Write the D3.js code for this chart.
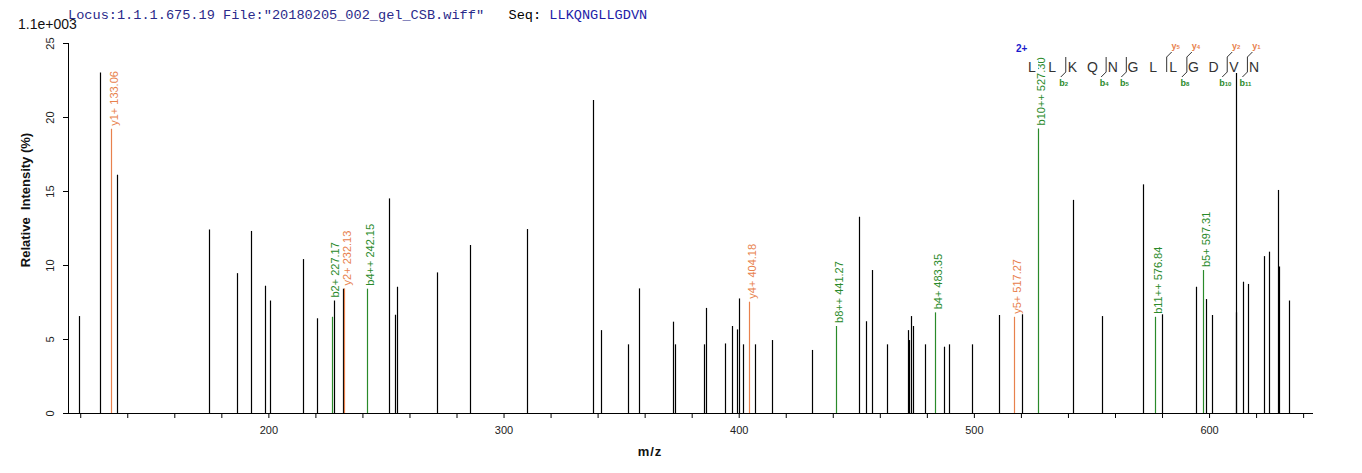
<!DOCTYPE html>
<html>
<head>
<meta charset="utf-8">
<script src="https://cdn.jsdelivr.net/npm/d3@7"></script>
<style>
  html, body { margin: 0; padding: 0; background: #fff; }
  svg { display: block; }
  text { font-family: Arial, "Liberation Sans", sans-serif; }
</style>
</head>
<body>
<svg id="chart" width="1362" height="473"></svg>
<script>
// ---------------- data ----------------
const sequence = "LLKQNGLLGDVN";
const chargeLabel = "2+";
const scaleLabel = "1.1e+003";

// unassigned (black) peaks: m/z and relative intensity (%)
const peakMz = [119.6, 128.5, 135.7, 174.9, 186.8, 192.7, 198.7, 200.8, 214.8, 220.8,
  228.0, 231.7, 251.1, 253.8, 254.8, 271.8, 285.8, 310.1, 338.1, 341.3,
  353.0, 357.4, 372.1, 373.1, 385.3, 386.2, 394.2, 397.2, 399.3, 400.2,
  401.9, 407.0, 414.2, 431.2, 451.2, 454.2, 456.5, 463.1, 472.0, 472.5,
  473.3, 474.2, 479.3, 487.4, 489.5, 499.3, 510.6, 520.5, 542.2, 554.6,
  571.7, 579.8, 594.5, 598.7, 601.3, 611.3, 611.5, 614.5, 616.6, 623.4,
  625.5, 629.4, 629.7, 634.0];
const peakInt = [6.55, 23.0, 16.1, 12.4, 9.45, 12.3, 8.6, 7.6, 10.4, 6.4,
  7.6, 8.4, 14.5, 6.64, 8.53, 9.5, 11.35, 12.43, 21.15, 5.6,
  4.64, 8.42, 6.17, 4.64, 4.64, 7.1, 4.7, 5.88, 5.65, 7.74,
  4.64, 4.64, 4.93, 4.26, 13.26, 6.2, 9.66, 4.64, 5.6, 4.93,
  6.55, 5.88, 4.64, 4.48, 4.64, 4.64, 6.62, 6.67, 14.4, 6.55,
  15.45, 6.67, 8.53, 7.7, 6.62, 23.8, 6.8, 8.87, 8.72, 10.6,
  10.9, 15.07, 9.9, 7.6];

// assigned fragment ions
const ionMz = [133.06, 227.17, 232.13, 242.15, 404.18, 441.27, 483.35, 517.27, 527.30, 576.84, 597.31];
const ionInt = [19.2, 6.5, 8.42, 8.4, 7.52, 5.88, 6.8, 6.5, 19.23, 6.5, 9.66];
const ionType = ["y", "b", "y", "b", "y", "b", "b", "y", "b", "b", "b"];
const ionLabel = ["y1+ 133.06", "b2+ 227.17", "y2+ 232.13", "b4++ 242.15", "y4+ 404.18",
  "b8++ 441.27", "b4+ 483.35", "y5+ 517.27", "b10++ 527.30", "b11++ 576.84", "b5+ 597.31"];

// cleavage markers on the sequence
const bIons = [2, 4, 5, 8, 10, 11];
const yIons = [5, 4, 2, 1];

// axes
const xDomain = [114.8, 644.2];
const yDomain = [0, 25];
const yTicks = [0, 5, 10, 15, 20, 25];
const xTicks = d3.range(120, 641, 20);
const xTickLabels = [200, 300, 400, 500, 600];

// ---------------- drawing ----------------
const colors = { y: "#e8814d", b: "#2a8a2a", peak: "#000" };
const svg = d3.select("#chart");

const x = d3.scaleLinear().domain(xDomain).range([68, 1313]);
const y = d3.scaleLinear().domain(yDomain).range([413, 43]);

// header
svg.append("text")
  .attr("x", 68).attr("y", 19)
  .attr("style", "font-family:'Liberation Mono','DejaVu Sans Mono',monospace;font-size:13.6px;white-space:pre")
  .attr("fill", "#2a2a8a")
  .attr("xml:space", "preserve")
  .call(t => {
    t.append("tspan").text('Locus:1.1.1.675.19 File:"20180205_002_gel_CSB.wiff"   ');
    t.append("tspan").attr("fill", "#000").text("Seq: ");
    t.append("tspan").attr("fill", "#1c1ca8").text(sequence);
  });

svg.append("text").attr("x", 18).attr("y", 29)
  .attr("font-size", 14).attr("fill", "#111").text(scaleLabel);

// x axis
const xAxis = d3.axisBottom(x).tickValues(xTicks).tickSize(5)
  .tickFormat(d => xTickLabels.includes(d) ? d : "");
const gx = svg.append("g").attr("transform", "translate(0,413)").call(xAxis);
gx.select(".domain").attr("d", `M${x(xDomain[0])},0.5H${x(xDomain[1])}`).attr("stroke", "#000");
gx.selectAll(".tick line").attr("stroke", "#000");
gx.selectAll(".tick text").attr("font-size", 11).attr("fill", "#222").attr("dy", "1.2em")
  .attr("font-family", "Arial, 'Liberation Sans', sans-serif");

// y axis
const yAxis = d3.axisLeft(y).tickValues(yTicks).tickSize(5);
const gy = svg.append("g").attr("transform", "translate(68,0)").call(yAxis);
gy.select(".domain").attr("d", `M0.5,${y(0)}V${y(25)}`).attr("stroke", "#000");
gy.selectAll(".tick line").attr("stroke", "#000");
gy.selectAll(".tick text")
  .attr("font-size", 11).attr("fill", "#222")
  .attr("font-family", "Arial, 'Liberation Sans', sans-serif")
  .attr("x", null).attr("dy", null).attr("text-anchor", "middle")
  .attr("transform", "translate(-14,0) rotate(-90)")
  .attr("y", 0);

// axis titles
svg.append("text").attr("transform", "translate(30,200) rotate(-90)")
  .attr("text-anchor", "middle").attr("font-size", 13).attr("font-weight", "bold")
  .attr("fill", "#111").attr("xml:space", "preserve").style("white-space", "pre")
  .text("Relative  Intensity (%)");
svg.append("text").attr("x", 650).attr("y", 456).attr("text-anchor", "middle")
  .attr("font-size", 13).attr("font-weight", "bold").attr("fill", "#111")
  .attr("letter-spacing", 1).text("m/z");

// unassigned peaks
svg.append("g").selectAll("line").data(peakMz).join("line")
  .attr("x1", d => Math.round(x(d)) + 0.5).attr("x2", d => Math.round(x(d)) + 0.5)
  .attr("y1", y(0)).attr("y2", (d, i) => y(peakInt[i]))
  .attr("stroke", colors.peak).attr("stroke-width", 1.2);

// assigned peaks
const ions = ionMz.map((m, i) => {
  // lift the label above any neighbouring peak that would cross it
  let top = y(ionInt[i]);
  peakMz.forEach((pm, j) => {
    if (Math.abs(x(pm) - x(m)) < 3.5) top = Math.min(top, y(peakInt[j]));
  });
  return { m, v: ionInt[i], t: ionType[i], l: ionLabel[i], top };
});
svg.append("g").selectAll("line").data(ions).join("line")
  .attr("x1", d => Math.round(x(d.m)) + 0.5).attr("x2", d => Math.round(x(d.m)) + 0.5)
  .attr("y1", y(0)).attr("y2", d => y(d.v))
  .attr("stroke", d => colors[d.t]).attr("stroke-width", 1.2);
svg.append("g").selectAll("text").data(ions).join("text")
  .attr("transform", d => `translate(${Math.round(x(d.m)) + 0.5},${d.top - 3}) rotate(-90)`)
  .attr("dy", "0.6em").attr("font-size", 11)
  .attr("fill", d => colors[d.t]).text(d => d.l);

// sequence annotation
const residues = sequence.split("");
const px = d3.scalePoint().domain(d3.range(residues.length)).range([1032, 1254]);
const seqG = svg.append("g");
seqG.selectAll("rect").data(residues).join("rect")
  .attr("x", (d, i) => px(i) - 6).attr("y", 60).attr("width", i => 12).attr("height", 13)
  .attr("fill", "#fff");
seqG.selectAll("text").data(residues).join("text")
  .attr("x", (d, i) => px(i)).attr("y", 72).attr("text-anchor", "middle")
  .attr("font-size", 14).attr("fill", "#333").text(d => d);
svg.append("text").attr("x", 1016).attr("y", 52).attr("font-size", 10)
  .attr("font-weight", "bold").attr("fill", "#1a1acc").text(chargeLabel);

const cut = n => (px(n - 1) + px(n)) / 2 + 3.5; // after n residues
const marks = svg.append("g").attr("stroke", "#333").attr("stroke-width", 1).attr("fill", "none");
const cuts = Array.from(new Set([...bIons, ...yIons.map(k => residues.length - k)]));
marks.selectAll("line.bar").data(cuts).join("line").attr("class", "bar")
  .attr("x1", d => cut(d)).attr("x2", d => cut(d)).attr("y1", 57).attr("y2", 72);
marks.selectAll("line.bh").data(bIons).join("line").attr("class", "bh")
  .attr("x1", d => cut(d)).attr("y1", 72).attr("x2", d => cut(d) - 5).attr("y2", 77);
marks.selectAll("line.yh").data(yIons).join("line").attr("class", "yh")
  .attr("x1", d => cut(residues.length - d)).attr("y1", 57)
  .attr("x2", d => cut(residues.length - d) + 5).attr("y2", 52);

svg.append("g").selectAll("text").data(bIons).join("text")
  .attr("x", d => cut(d) - 2).attr("y", 86).attr("text-anchor", "middle")
  .attr("font-size", 9).attr("font-weight", "bold").attr("fill", colors.b)
  .call(t => { t.append("tspan").text("b"); t.append("tspan").attr("font-size", 6).text(d => d); });
svg.append("g").selectAll("text").data(yIons).join("text")
  .attr("x", d => cut(residues.length - d) + 9).attr("y", 49).attr("text-anchor", "middle")
  .attr("font-size", 9).attr("font-weight", "bold").attr("fill", colors.y)
  .call(t => { t.append("tspan").text("y"); t.append("tspan").attr("font-size", 6).text(d => d); });
</script>
</body>
</html>
